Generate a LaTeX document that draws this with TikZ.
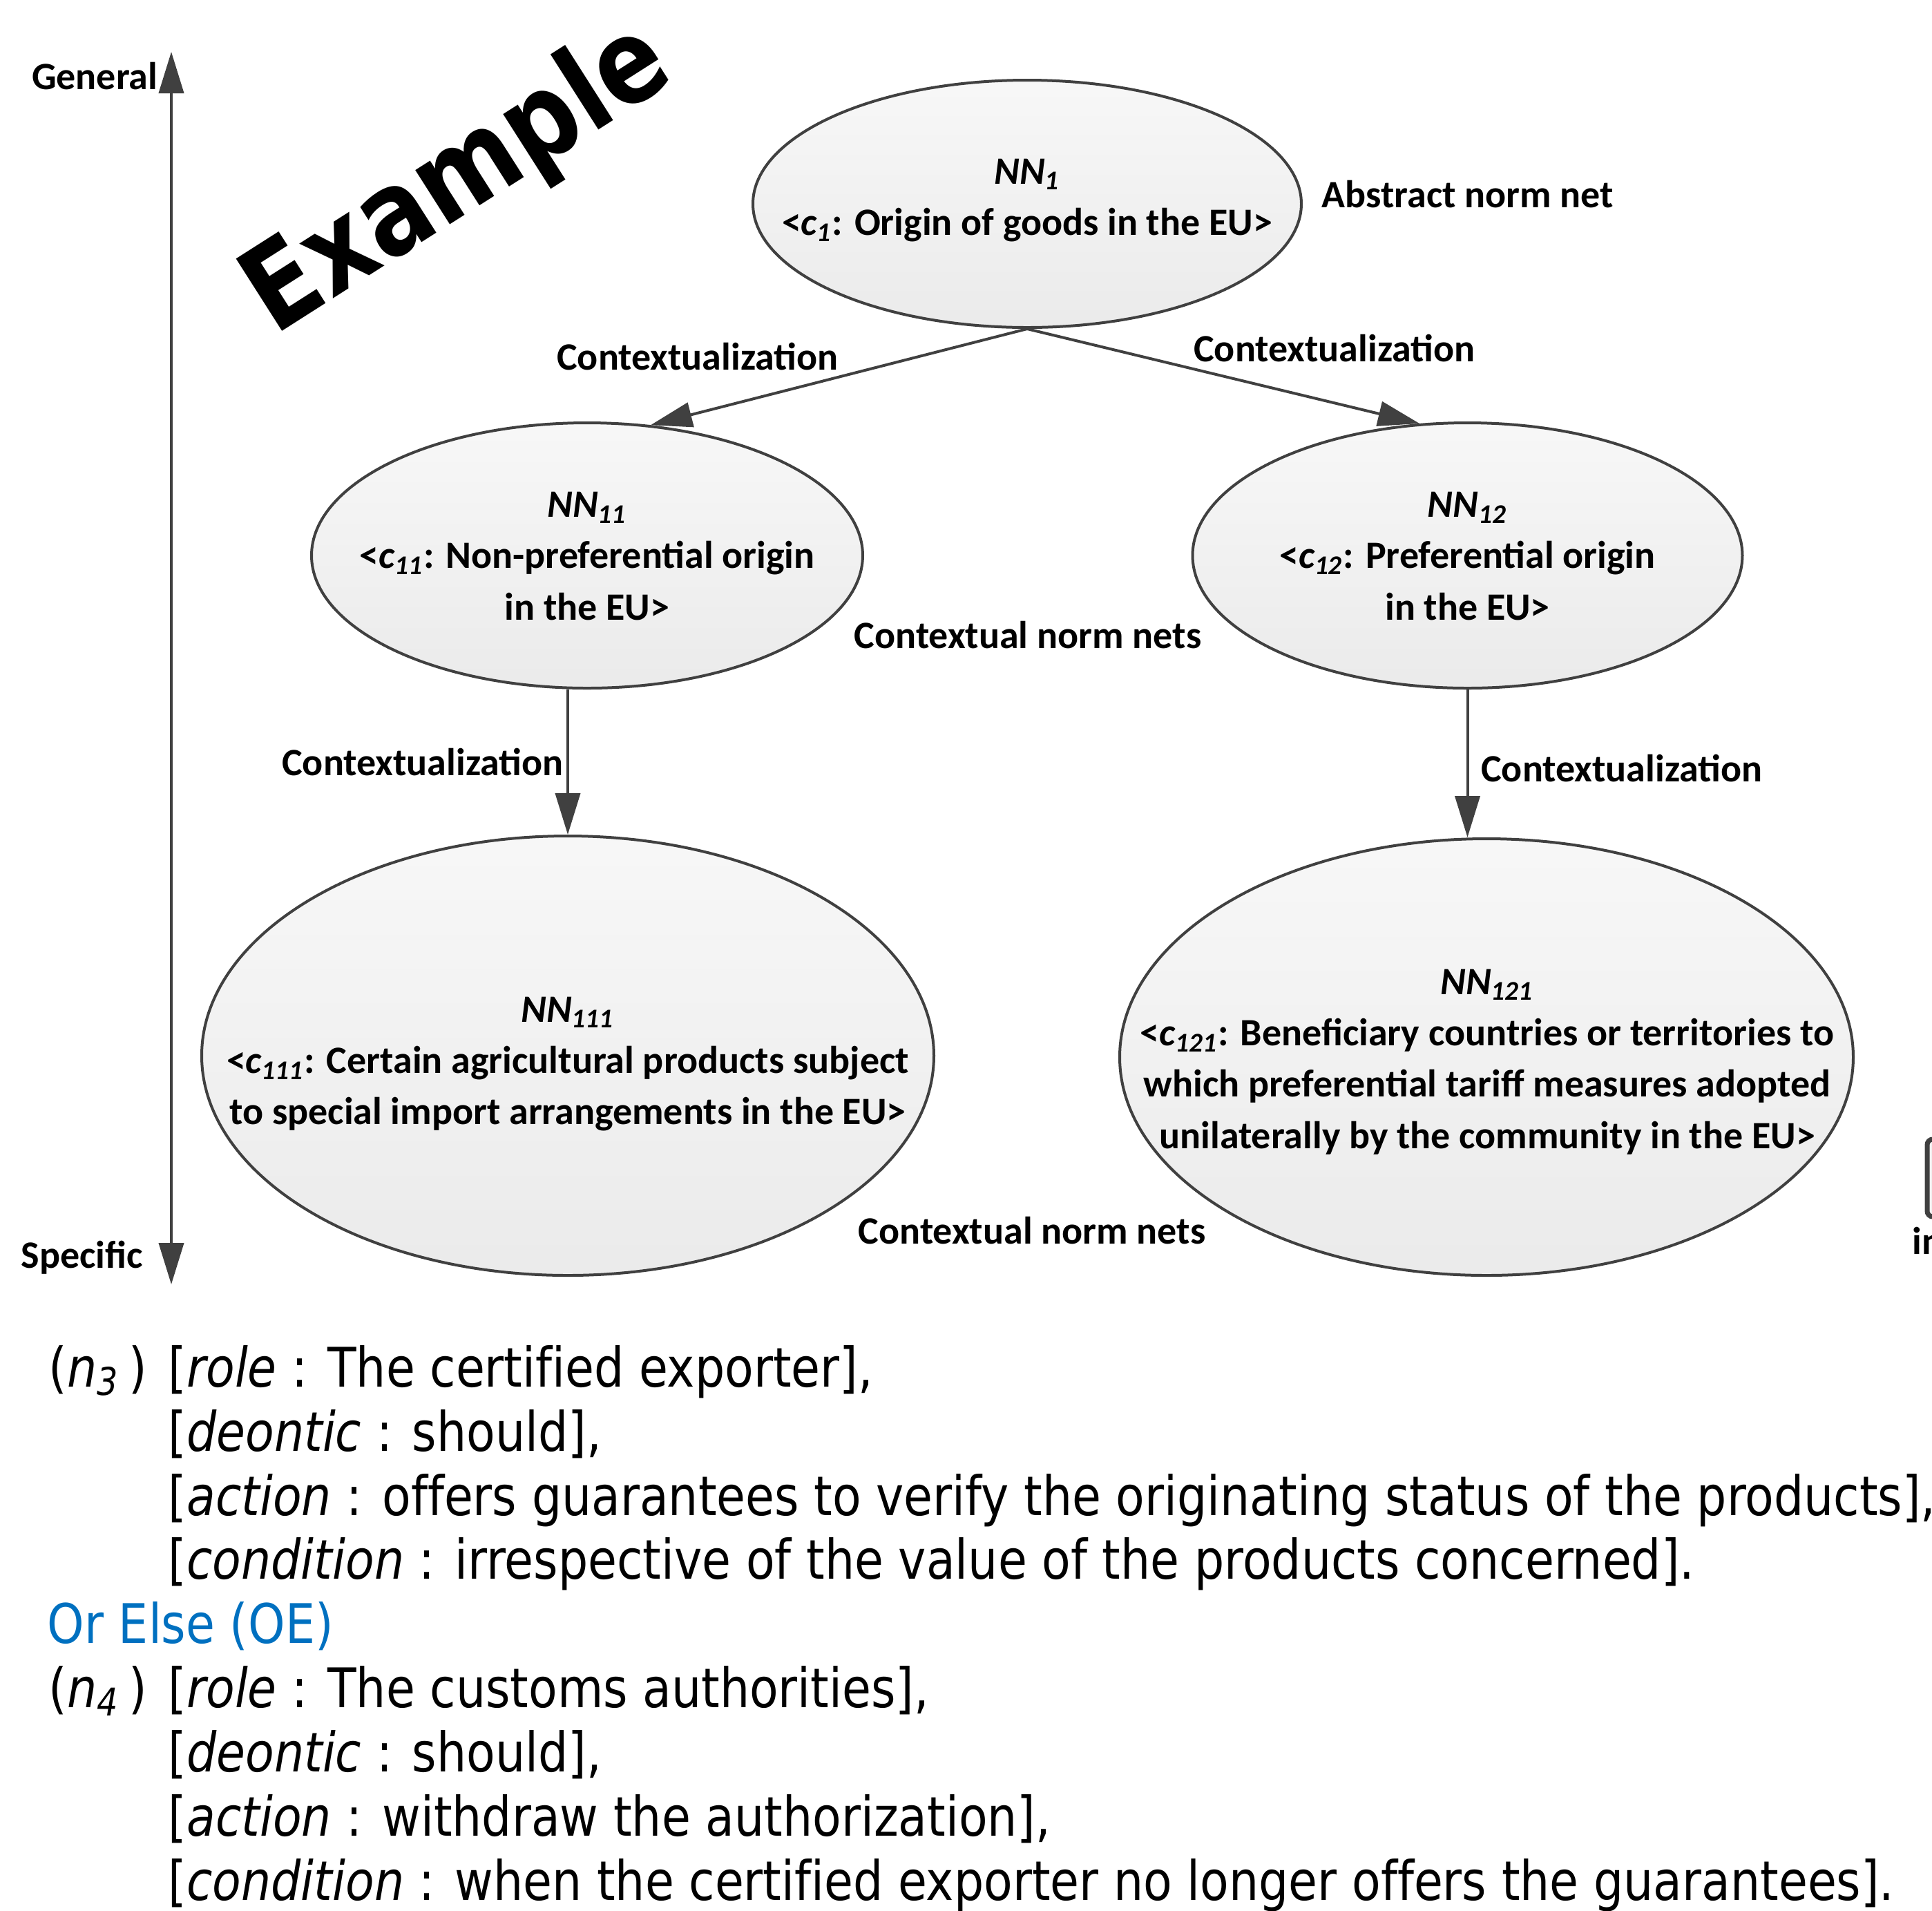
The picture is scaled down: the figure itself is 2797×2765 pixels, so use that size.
\documentclass[tikz,border=0pt]{standalone}
\usepackage{fontspec}
\setmainfont{Carlito}
\newfontfamily\bodyfont[FakeStretch=0.862,Ligatures=NoCommon]{DejaVu Sans}
\newfontfamily\exfont[FakeStretch=0.85]{DejaVu Sans}
\usetikzlibrary{shapes.geometric,arrows.meta}
\definecolor{edgegray}{HTML}{404040}
\definecolor{oeblue}{HTML}{0070C0}
\begin{document}
\begin{tikzpicture}[x=0.25pt,y=-0.25pt,
  nnell/.style={ellipse, draw=edgegray, line width=1pt, top color=white!97!black, bottom color=white!92!black, inner sep=0pt},
  nntxt/.style={align=center, inner sep=0pt, font=\fontsize{14}{18.6}\selectfont\bfseries},
  lbl/.style={inner sep=0pt, anchor=base, font=\fontsize{14}{17}\selectfont\bfseries},
  conn/.style={draw=edgegray, line width=1pt, -{Triangle[length=15pt,width=9pt]}},
  bodytxt/.style={anchor=base west, inner sep=0pt, font=\bodyfont\fontsize{19.75}{23.2}\selectfont}]
\useasboundingbox (0,0) rectangle (2797,2765);
\clip (0,0) rectangle (2797,2765);

% vertical axis
\coordinate (axTop) at (248,75);
\coordinate (axBot) at (248,1859);
\draw[draw=edgegray, line width=1pt, {Triangle[length=15pt,width=9pt]}-{Triangle[length=15pt,width=9pt]}] (axBot) -- (axTop);
\node[lbl, anchor=base east] (gen) at (229,129) {General};
\node[lbl, anchor=base west] (spec) at (30,1835) {Specific};

% Example
\node[anchor=base west, inner sep=0pt, rotate=32.5, font=\exfont\bfseries\fontsize{42.5}{50}\selectfont] (ex) at (397,487) {Example};

% ellipses
\node[nnell, minimum width=198.5pt, minimum height=89.5pt] (NN1) at (1487,295) {};
\node[nnell, minimum width=199.5pt, minimum height=96pt] (NN11) at (850,804) {};
\node[nnell, minimum width=199pt, minimum height=96pt] (NN12) at (2124.5,804) {};
\node[nnell, minimum width=265pt, minimum height=159pt] (NN111) at (822,1528) {};
\node[nnell, minimum width=265.5pt, minimum height=158pt] (NN121) at (2152,1530) {};

\node[nntxt] (NN1t) at (1487,290) {\textit{NN\textsubscript{1}}\\<\textit{c\textsubscript{1}}: Origin of goods in the EU>};
\node[nntxt] (NN11t) at (850,805) {\textit{NN\textsubscript{11}}\\<\textit{c\textsubscript{11}}: Non-preferential origin\\in the EU>};
\node[nntxt] (NN12t) at (2124.5,805) {\textit{NN\textsubscript{12}}\\<\textit{c\textsubscript{12}}: Preferential origin\\in the EU>};
\node[nntxt] (NN111t) at (822,1540) {\textit{NN\textsubscript{111}}\\<\textit{c\textsubscript{111}}: Certain agricultural products subject\\to special import arrangements in the EU>};
\node[nntxt] (NN121t) at (2153,1537) {\textit{NN\textsubscript{121}}\\<\textit{c\textsubscript{121}}: Beneficiary countries or territories to\\which preferential tariff measures adopted\\unilaterally by the community in the EU>};

% side labels
\node[lbl] (abs) at (2125,300) {Abstract norm net};
\node[lbl] (cnn1) at (1488,938) {Contextual norm nets};
\node[lbl] (cnn2) at (1494,1800) {Contextual norm nets};
\node[lbl] (ctx1) at (1010,535) {Contextualization};
\node[lbl] (ctx2) at (1932,523) {Contextualization};
\node[lbl] (ctx3) at (612,1122) {Contextualization};
\node[lbl] (ctx4) at (2348,1131) {Contextualization};

% connectors
\draw[conn] (NN1.south) -- (NN11.64);
\draw[conn] (NN1.south) -- (NN12.110);
\draw[conn] (NN111.north |- NN11.south) -- (NN111.north);
\draw[conn] (NN12.south) -- (NN12.south |- NN121.north);

% cropped element at right edge
\draw[draw=edgegray, line width=1.75pt, fill=white!95!black, rounded corners=2pt] (2790,1649) rectangle (2880,1761);
\node[lbl, anchor=base west] (inlbl) at (2768,1815) {in};

% norms text
\node[bodytxt] (n3) at (70,2007) {(\textit{n}\textsubscript{\textit{3}}\,)};
\node[bodytxt] (n3a) at (243,2007) {[\textit{role} : The certified exporter],};
\node[bodytxt] (n3b) at (243,2100) {[\textit{deontic} : should],};
\node[bodytxt] (n3c) at (243,2193) {[\textit{action} : offers guarantees to verify the originating status of the products],};
\node[bodytxt] (n3d) at (243,2285) {[\textit{condition} : irrespective of the value of the products concerned].};
\node[bodytxt, text=oeblue] (oe) at (68,2378) {Or Else (OE)};
\node[bodytxt] (n4) at (70,2471) {(\textit{n}\textsubscript{\textit{4}}\,)};
\node[bodytxt] (n4a) at (243,2471) {[\textit{role} : The customs authorities],};
\node[bodytxt] (n4b) at (243,2564) {[\textit{deontic} : should],};
\node[bodytxt] (n4c) at (243,2657) {[\textit{action} : withdraw the authorization],};
\node[bodytxt] (n4d) at (243,2750) {[\textit{condition} : when the certified exporter no longer offers the guarantees].};
\end{tikzpicture}
\end{document}
